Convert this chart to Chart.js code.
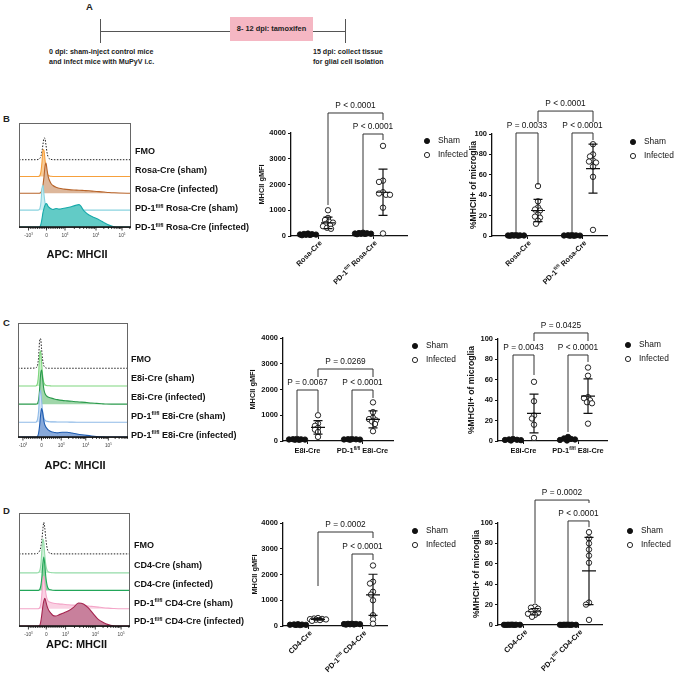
<!DOCTYPE html>
<html>
<head>
<meta charset="utf-8">
<script src="https://cdn.jsdelivr.net/npm/chart.js@4.4.1/dist/chart.umd.min.js"></script>
<style>
  body { margin: 0; background: #fff; width: 678px; height: 679px; position: relative; overflow: hidden;
         font-family: "Liberation Sans", Arial, sans-serif; }
  canvas { position: absolute; }
  .t { position: absolute; font-weight: bold; color: #222; white-space: nowrap; }
</style>
</head>
<body>
<!-- panel A: timeline -->
<div class="t" style="left:86px;top:1px;font-size:9.5px">A</div>
<div style="position:absolute;left:100px;top:31px;width:246px;height:1.2px;background:#555"></div>
<div style="position:absolute;left:99.5px;top:19px;width:1.2px;height:24px;background:#555"></div>
<div style="position:absolute;left:345px;top:19px;width:1.2px;height:24px;background:#555"></div>
<div class="t" style="left:230px;top:17px;width:83px;height:24px;background:#F5B7C3;font-size:7.4px;line-height:24px;text-align:center">8- 12 dpi: tamoxifen</div>
<div class="t" style="left:49px;top:47px;font-size:7.1px;line-height:10px">0 dpi: sham-inject control mice<br>and infect mice with MuPyV i.c.</div>
<div class="t" style="left:313px;top:47px;font-size:7.1px;line-height:10px">15 dpi: collect tissue<br>for glial cell isolation</div>
<div class="t" style="left:3px;top:113px;font-size:9.5px">B</div>
<div class="t" style="left:3px;top:317px;font-size:9.5px">C</div>
<div class="t" style="left:3px;top:505px;font-size:9.5px">D</div>

<canvas id="hB"></canvas>
<canvas id="hC"></canvas>
<canvas id="hD"></canvas>
<canvas id="sB1"></canvas>
<canvas id="sB2"></canvas>
<canvas id="sC1"></canvas>
<canvas id="sC2"></canvas>
<canvas id="sD1"></canvas>
<canvas id="sD2"></canvas>

<script>
const SANS = '"Liberation Sans", Arial, sans-serif';

// ---------- histogram data (heights above each lane, % of box) ----------
const histX = [0, 18, 19, 20, 21, 22, 23, 24, 25, 26, 27, 28, 29, 30, 32, 34, 37, 40, 45, 50, 55, 60, 65, 70, 75, 80, 85, 90, 95, 100, 112];
const histTickLabels = ['-10^3^', '0', '10^3^', '10^4^', '10^5^'];
const histTitle = 'APC: MHCII';

const rosaLanes = ['FMO', 'Rosa-Cre (sham)', 'Rosa-Cre (infected)', 'PD-1^fl/fl^ Rosa-Cre (sham)', 'PD-1^fl/fl^ Rosa-Cre (infected)'];
const rosaFmo    = [0,0,0.2,0.6,1.5,3.5,8,15,21,20,14,7,3,1.2,0.3,0,0,0,0,0,0,0,0,0,0,0,0,0,0,0,0];
const rosaSham   = [0,0,0,0.3,1.2,5,14,26,25,16,8,3.5,1.5,0.7,0.3,0.1,0,0,0,0,0,0,0,0,0,0,0,0,0,0,0];
const rosaInf    = [0,0,0,0,0.3,1,3,8,16,26,29,23,17,13.5,9.5,7.5,5.8,4.8,4,3.5,3.2,3,2.7,2.4,2,1.6,1.2,0.8,0.5,0.3,0];
const rosaPdSham = [0,0,0,0.4,2,8,21,24,15,7,3,1.5,0.8,0.4,0.2,0.1,0,0,0,0,0,0,0,0,0,0,0,0,0,0,0];
const rosaPdInf  = [0,0,0,0,0.5,3,8,14,18,21,22.5,22,20,19,17.5,16.8,17.8,17.2,18,19,20.3,21.5,15.5,11.5,9.2,7,4.2,1.8,0.3,0,0];

const e8iLanes = ['FMO', 'E8i-Cre (sham)', 'E8i-Cre (infected)', 'PD-1^fl/fl^ E8i-Cre (sham)', 'PD-1^fl/fl^ E8i-Cre (infected)'];
const e8iFmo    = [0,0.2,1,3,10,24,26,17,8,3,1.2,0.4,0.1,0,0,0,0,0,0,0,0,0,0,0,0,0,0,0,0,0,0];
const e8iSham   = [0,0.1,0.6,3,11,27,31,21,10,4,1.8,0.9,0.5,0.3,0.2,0.1,0,0,0,0,0,0,0,0,0,0,0,0,0,0,0];
const e8iInf    = [0,0,0.1,0.8,4,13,26,30,23,15,10.5,8.5,7.2,6.5,5.8,5.3,4.6,4,3.3,2.9,2.5,2.1,1.8,1.4,1,0.7,0.4,0.1,0,0,0];
const e8iPdSham = [0,0.1,0.6,3,10,24,28,20,10,5,2.5,1.4,1,0.8,0.5,0.4,0.35,0.3,0.25,0.2,0.15,0.1,0.05,0,0,0,0,0,0,0,0];
const e8iPdInf  = [0,0,0,0.7,3.5,10,19,25,22,16,11.5,9.5,8,7,5.5,4.6,4,3.6,4.2,4.2,3.5,2.7,2,1.4,0.9,0.5,0.2,0,0,0,0];

const cd4Lanes = ['FMO', 'CD4-Cre (sham)', 'CD4-Cre (infected)', 'PD-1^fl/fl^ CD4-Cre (sham)', 'PD-1^fl/fl^ CD4-Cre (infected)'];
const cd4Fmo    = [0,0.1,0.6,1.5,3,6,12,21,28,23,14,7,3,1.4,0.4,0,0,0,0,0,0,0,0,0,0,0,0,0,0,0,0];
const cd4Sham   = [0,0,0.1,0.6,2.2,7,19,30,27,16,7.5,3.2,1.4,0.7,0.3,0.1,0,0,0,0,0,0,0,0,0,0,0,0,0,0,0];
const cd4Inf    = [0,0,0,0.2,1,4,11,23,29.5,23,12.5,6,2.6,1.2,0.5,0.1,0,0,0,0,0,0,0,0,0,0,0,0,0,0,0];
const cd4PdSham = [0,0,0,0.2,1,4,12,24,29,22,14,9.5,7.3,6.3,5.5,5,4.6,4.3,3.9,3.5,3.2,3,2.8,2.4,1.9,1.4,0.9,0.5,0.2,0,0];
const cd4PdInf  = [0,0,0,0.1,0.7,4,10,17,22,24.5,22,18.5,15.8,14,11.5,9.5,8.8,9.8,11.5,13.5,16.5,20.3,19.5,16,10.8,5.8,3.1,1.2,0.2,0,0];

// ---------- scatter data: MHCII gMFI ----------
const gmfiRosaSham   = [95, 80, 70, 60, 55, 45, 40, 30];
const gmfiRosaInf    = [1000, 700, 620, 560, 520, 470, 420, 380, 320, 280];
const gmfiPdRosaSham = [130, 115, 105, 95, 90, 85, 80, 70];
const gmfiPdRosaInf  = [3500, 2150, 2100, 1700, 1650, 1600, 1600, 1100, 100];
const gmfiRosaMean = [60, 510, 95, 1700];
const gmfiRosaSd   = [22, 220, 20, 900];
const gmfiRosaP    = ['P < 0.0001', 'P < 0.0001'];

const gmfiE8iSham   = [80, 70, 65, 60, 55, 50, 45];
const gmfiE8iInf    = [1000, 680, 590, 510, 440, 350, 160];
const gmfiPdE8iSham = [75, 70, 65, 60, 55, 50];
const gmfiPdE8iInf  = [1500, 1120, 900, 850, 800, 760, 660, 380];
const gmfiE8iMean = [60, 530, 62, 840];
const gmfiE8iSd   = [12, 260, 10, 330];
const gmfiE8iP    = ['P = 0.0269', 'P = 0.0067', 'P < 0.0001'];

const gmfiCd4Sham   = [70, 60, 55, 50, 45, 40, 35];
const gmfiCd4Inf    = [310, 290, 275, 265, 255, 245, 230, 200];
const gmfiPdCd4Sham = [90, 85, 80, 75, 70, 65, 60, 55];
const gmfiPdCd4Inf  = [2350, 1720, 1650, 1330, 1220, 1000, 420, 260, 90];
const gmfiCd4Mean = [50, 260, 72, 1210];
const gmfiCd4Sd   = [12, 35, 12, 800];
const gmfiCd4P    = ['P = 0.0002', 'P < 0.0001'];

// ---------- scatter data: % MHCII+ of microglia ----------
const pctRosaSham   = [0.9, 0.8, 0.6, 0.5, 0.5, 0.4, 0.3, 0.2];
const pctRosaInf    = [49, 34, 28, 26, 25, 21, 19, 18, 15, 12];
const pctPdRosaSham = [0.9, 0.7, 0.6, 0.5, 0.4, 0.3, 0.2];
const pctPdRosaInf  = [90, 80, 78, 74, 73, 72, 68, 58, 6];
const pctRosaMean = [0.5, 25, 0.5, 66];
const pctRosaSd   = [0.3, 11, 0.3, 24];
const pctRosaP    = ['P < 0.0001', 'P = 0.0033', 'P < 0.0001'];

const pctE8iSham   = [2, 1.5, 1.2, 1, 0.8, 0.5];
const pctE8iInf    = [58, 39, 25, 22, 16, 3];
const pctPdE8iSham = [4, 2.5, 2, 1.5, 1, 0.5];
const pctPdE8iInf  = [72, 64, 43, 42, 40, 38, 37, 17];
const pctE8iMean = [1.2, 27, 2, 44];
const pctE8iSd   = [0.5, 19, 1.3, 17];
const pctE8iP    = ['P = 0.0425', 'P = 0.0043', 'P < 0.0001'];

const pctCd4Sham   = [0.4, 0.3, 0.3, 0.2, 0.2, 0.2, 0.1, 0.1];
const pctCd4Inf    = [18, 17, 16, 14, 13, 12, 11, 10, 8];
const pctPdCd4Sham = [0.4, 0.3, 0.3, 0.2, 0.2, 0.2, 0.1, 0.1];
const pctPdCd4Inf  = [91, 85, 80, 74, 68, 61, 22, 20, 5];
const pctCd4Mean = [0.2, 13, 0.2, 53];
const pctCd4Sd   = [0.1, 3.2, 0.1, 33];
const pctCd4P    = ['P = 0.0002', 'P < 0.0001'];

const legendNames = ['Sham', 'Infected'];

// text with ^superscript^ parts
function rich(ctx, str, x, y, size, weight, align) {
  const parts = str.split('^');
  const font = i => `${weight} ${i % 2 ? size * 0.6 : size}px ${SANS}`;
  let w = 0;
  parts.forEach((p, i) => { ctx.font = font(i); w += ctx.measureText(p).width; });
  let cx = align === 'right' ? x - w : align === 'center' ? x - w / 2 : x;
  ctx.textAlign = 'left';
  ctx.textBaseline = 'middle';
  parts.forEach((p, i) => {
    ctx.font = font(i);
    ctx.fillText(p, cx, i % 2 ? y - size * 0.32 : y);
    cx += ctx.measureText(p).width;
  });
}

function makeHist(o) {
  const cv = document.getElementById(o.id);
  const top = o.box.t - 8, W = 262, H = o.box.b - top + 45;
  cv.width = W; cv.height = H;
  cv.style.left = '0px'; cv.style.top = top + 'px';
  const datasets = [];
  // bottom lane first so it is painted on top
  for (let i = o.curves.length - 1; i >= 0; i--) {
    const base = o.lanes[i];
    const fmo = i === 0;
    datasets.push({
      data: histX.map((x, k) => ({ x, y: base + o.curves[i][k] })),
      borderColor: o.colors[i][0],
      backgroundColor: o.colors[i][1] || 'transparent',
      borderWidth: fmo ? 1 : 1.1,
      borderDash: fmo ? [1.5, 1.5] : [],
      fill: fmo ? false : { value: base },
      pointRadius: 0,
      cubicInterpolationMode: 'monotone'
    });
  }
  const t = o.tickAt;
  const minor = [];
  for (let k = -9; k <= 9; k++) minor.push(t[1] + k / 10 * (k < 0 ? t[1] - t[0] : t[2] - t[1]));
  for (let m = 2; m <= 9; m++) {
    minor.push(t[2] + Math.log10(m) * (t[3] - t[2]));
    minor.push(t[3] + Math.log10(m) * (t[4] - t[3]));
    const p = t[4] + Math.log10(m) * (t[4] - t[3]);
    if (p < 112) minor.push(p);
  }
  const deco = {
    id: 'histDeco',
    afterDraw(chart) {
      const { ctx, chartArea: a, scales: { x } } = chart;
      ctx.save();
      ctx.strokeStyle = '#666'; ctx.lineWidth = 1;
      ctx.strokeRect(a.left + 0.5, a.top + 0.5, a.right - a.left - 1, a.bottom - a.top);
      ctx.strokeStyle = '#111'; ctx.lineWidth = 1.4;
      ctx.beginPath(); ctx.moveTo(a.left, a.bottom); ctx.lineTo(a.right, a.bottom); ctx.stroke();
      ctx.lineWidth = 0.8;
      ctx.beginPath();
      minor.forEach(v => { const px = x.getPixelForValue(v); ctx.moveTo(px, a.bottom); ctx.lineTo(px, a.bottom + 2); });
      t.forEach(v => { const px = x.getPixelForValue(v); ctx.moveTo(px, a.bottom); ctx.lineTo(px, a.bottom + 3.5); });
      ctx.stroke();
      ctx.fillStyle = '#444';
      t.forEach((v, i) => rich(ctx, histTickLabels[i], x.getPixelForValue(v), a.bottom + 9, 4.8, 'normal', 'center'));
      ctx.fillStyle = '#111';
      o.names.forEach((n, i) => rich(ctx, n, o.labelX, o.labelY[i] - top, 9, 'bold', 'left'));
      rich(ctx, histTitle, (a.left + a.right) / 2 + 2, o.titleY - top, 11, 'bold', 'center');
      ctx.restore();
    }
  };
  new Chart(cv, {
    type: 'line',
    data: { datasets },
    options: {
      responsive: false, animation: false, events: [],
      layout: { padding: { left: o.box.l, top: 8, right: W - o.box.r, bottom: 45 } },
      scales: {
        x: { type: 'linear', display: false, min: 0, max: 112 },
        y: { display: false, min: 0, max: 100 }
      },
      plugins: { legend: { display: false }, tooltip: { enabled: false } }
    },
    plugins: [deco]
  });
}

function swarm(values, ymax, plotH) {
  const placed = [];
  return values.map(v => {
    const py = v / ymax * plotH;
    let best = 0, bestD = -1;
    for (let k = 0; k <= 16; k++) {
      const dx = (k % 2 ? -1 : 1) * Math.ceil(k / 2);
      const d = placed.reduce((m, p) => Math.min(m, Math.hypot(p[0] - dx, p[1] - py)), 99);
      if (d >= 3.4) { best = dx; break; }
      if (d > bestD + 0.01) { best = dx; bestD = d; }
    }
    placed.push([best, py]);
    return best;
  });
}

function makeScatter(o) {
  const cv = document.getElementById(o.id);
  const c = o.canvas, a = o.area;
  cv.width = c.w; cv.height = c.h;
  cv.style.left = c.x + 'px'; cv.style.top = c.y + 'px';
  const plotH = a.b - a.t;
  const datasets = o.groups.map((vals, g) => {
    const dx = swarm(vals, o.ymax, plotH);
    return {
      data: vals.map((v, i) => ({ x: o.gx[g] + dx[i], y: v })),
      pointRadius: 2.7,
      pointBorderWidth: 0.9,
      pointBackgroundColor: g % 2 === 0 ? '#111' : '#fff',
      pointBorderColor: '#111',
      clip: false
    };
  });
  const centers = [(o.gx[0] + o.gx[1]) / 2, (o.gx[2] + o.gx[3]) / 2];
  const deco = {
    id: 'scatterDeco',
    afterDatasetsDraw(chart) {
      const { ctx, chartArea: ca, scales: { x, y } } = chart;
      ctx.save();
      ctx.strokeStyle = '#111'; ctx.lineWidth = 1.2;
      ctx.beginPath();
      o.mean.forEach((m, g) => {
        const px = x.getPixelForValue(o.gx[g]);
        const pm = y.getPixelForValue(m), lo = y.getPixelForValue(m - o.sd[g]), hi = y.getPixelForValue(m + o.sd[g]);
        ctx.moveTo(px - 7, pm); ctx.lineTo(px + 7, pm);
        ctx.moveTo(px, lo); ctx.lineTo(px, hi);
        ctx.moveTo(px - 4.5, lo); ctx.lineTo(px + 4.5, lo);
        ctx.moveTo(px - 4.5, hi); ctx.lineTo(px + 4.5, hi);
      });
      ctx.stroke();
      // significance brackets
      ctx.strokeStyle = '#333'; ctx.lineWidth = 1;
      ctx.fillStyle = '#111';
      ctx.font = `8.3px ${SANS}`;
      ctx.textAlign = 'center'; ctx.textBaseline = 'middle';
      o.brackets.forEach((b, i) => {
        const x1 = x.getPixelForValue(o.gx[b.g[0]]), x2 = x.getPixelForValue(o.gx[b.g[1]]);
        const py = y.getPixelForValue(b.y);
        ctx.beginPath();
        ctx.moveTo(x1, y.getPixelForValue(b.ends[0]));
        ctx.lineTo(x1, py); ctx.lineTo(x2, py);
        ctx.lineTo(x2, y.getPixelForValue(b.ends[1]));
        ctx.stroke();
        ctx.fillText(o.pvals[i], (x1 + x2) / 2, py - 7);
      });
      // category labels
      ctx.fillStyle = '#111';
      centers.forEach((cx, i) => {
        const px = x.getPixelForValue(cx);
        if (o.rotate) {
          ctx.save();
          ctx.translate(px + 3, ca.bottom + 6);
          ctx.rotate(-Math.PI / 4);
          rich(ctx, o.xLabels[i], 0, 0, 7.4, 'bold', 'right');
          ctx.restore();
        } else {
          rich(ctx, o.xLabels[i], px, ca.bottom + 10, 7.4, 'bold', 'center');
        }
      });
      // y title
      ctx.save();
      ctx.translate(ca.left - o.titleDx, (ca.top + ca.bottom) / 2);
      ctx.rotate(-Math.PI / 2);
      ctx.font = `bold ${o.titleSize}px ${SANS}`;
      ctx.textAlign = 'center'; ctx.textBaseline = 'middle';
      ctx.fillText(o.yTitle, 0, 0);
      ctx.restore();
      // legend
      legendNames.forEach((n, i) => {
        const lx = o.legend[0] - c.x, ly = o.legend[1] - c.y + i * 14;
        ctx.beginPath();
        ctx.arc(lx, ly, 2.6, 0, Math.PI * 2);
        ctx.fillStyle = i === 0 ? '#111' : '#fff';
        ctx.fill();
        ctx.lineWidth = 0.9; ctx.strokeStyle = '#111'; ctx.stroke();
        ctx.fillStyle = '#111';
        ctx.font = `8.4px ${SANS}`;
        ctx.textAlign = 'left'; ctx.textBaseline = 'middle';
        ctx.fillText(n, lx + 11, ly);
      });
      ctx.restore();
    }
  };
  new Chart(cv, {
    type: 'scatter',
    data: { datasets },
    options: {
      responsive: false, animation: false, events: [],
      layout: { padding: { left: 0, top: a.t - c.y, right: c.x + c.w - a.r, bottom: 0 } },
      scales: {
        x: {
          type: 'linear', min: 0, max: a.r - a.l,
          afterBuildTicks: s => { s.ticks = centers.map(v => ({ value: v })); },
          afterFit: s => { s.height = c.y + c.h - a.b; },
          ticks: { display: false },
          grid: { drawOnChartArea: false, drawTicks: true, tickLength: 3, color: '#111', lineWidth: 1 },
          border: { display: true, color: '#111', width: 1.3, dash: o.dashAxis ? [3, 2] : [] }
        },
        y: {
          min: 0, max: o.ymax,
          afterFit: s => { s.width = a.l - c.x; },
          ticks: { stepSize: o.ymax / (o.ymax === 100 ? 5 : 4), color: '#111', padding: 2,
                   callback: v => String(v),
                   font: { family: SANS, size: 7.5, weight: 'bold' } },
          grid: { drawOnChartArea: false, drawTicks: true, tickLength: 3, color: '#111', lineWidth: 1 },
          border: { display: true, color: '#111', width: 1.3 }
        }
      },
      plugins: { legend: { display: false }, tooltip: { enabled: false } }
    },
    plugins: [deco]
  });
}

// ---------- histograms ----------
makeHist({
  id: 'hB', box: { l: 19, t: 123, r: 131, b: 227 }, lanes: [64.7, 48.5, 32.4, 16.2, 0],
  curves: [rosaFmo, rosaSham, rosaInf, rosaPdSham, rosaPdInf], names: rosaLanes,
  colors: [['#222', null], ['#F6A03C', '#F9CC98'], ['#B8642A', '#DDB79B'], ['#8AD3DF', '#CDEFF3'], ['#18AAAA', '#62CBC6']],
  tickAt: [9.5, 27.5, 46, 77, 103], labelX: 135, labelY: [152, 171, 190, 209, 228], titleY: 255
});
makeHist({
  id: 'hC', box: { l: 18, t: 323, r: 128, b: 437 }, lanes: [60.3, 44.7, 28.8, 12.9, 0],
  curves: [e8iFmo, e8iSham, e8iInf, e8iPdSham, e8iPdInf], names: e8iLanes,
  colors: [['#222', null], ['#7ED67E', '#C9EFC9'], ['#2A9A4C', '#9FD6A9'], ['#90BBE8', '#D2E3F6'], ['#1F5CB0', '#88A9DA']],
  tickAt: [5, 24, 44, 69, 92], labelX: 131, labelY: [360, 379, 397.5, 416.5, 435.5], titleY: 466
});
makeHist({
  id: 'hD', box: { l: 19, t: 513, r: 130, b: 626 }, lanes: [63.8, 47, 31.5, 15.3, 0],
  curves: [cd4Fmo, cd4Sham, cd4Inf, cd4PdSham, cd4PdInf], names: cd4Lanes,
  colors: [['#222', null], ['#94DCA8', '#CFF0D8'], ['#22A659', '#8FD3A3'], ['#F4A5C8', '#FAD2E3'], ['#A5244F', '#C8809C']],
  tickAt: [9.5, 27.5, 47, 77, 103], labelX: 134, labelY: [546, 566, 585, 603.5, 622], titleY: 645
});

// ---------- scatter plots ----------
makeScatter({
  id: 'sB1', canvas: { x: 236, y: 95, w: 240, h: 190 }, area: { l: 291, t: 133, r: 407, b: 236 },
  ymax: 4000, gx: [17, 37, 72, 92],
  groups: [gmfiRosaSham, gmfiRosaInf, gmfiPdRosaSham, gmfiPdRosaInf], mean: gmfiRosaMean, sd: gmfiRosaSd,
  pvals: gmfiRosaP,
  brackets: [{ g: [1, 3], y: 4777, ends: [1204, 4505] }, { g: [2, 3], y: 3961, ends: [233, 3728] }],
  xLabels: ['Rosa-Cre', 'PD-1^fl/fl^ Rosa-Cre'], rotate: true,
  yTitle: 'MHCII gMFI', titleSize: 7.4, titleDx: 29, legend: [427, 141]
});
makeScatter({
  id: 'sB2', canvas: { x: 440, y: 95, w: 238, h: 190 }, area: { l: 492, t: 134, r: 607, b: 236 },
  ymax: 100, gx: [24, 46, 80, 101],
  groups: [pctRosaSham, pctRosaInf, pctPdRosaSham, pctPdRosaInf], mean: pctRosaMean, sd: pctRosaSd,
  pvals: pctRosaP,
  brackets: [{ g: [1, 3], y: 122.5, ends: [111.8, 111.8] }, { g: [0, 1], y: 101, ends: [3, 50] }, { g: [2, 3], y: 101, ends: [3, 94] }],
  xLabels: ['Rosa-Cre', 'PD-1^fl/fl^ Rosa-Cre'], rotate: true,
  yTitle: '%MHCII+ of microglia', titleSize: 8.6, titleDx: 18, legend: [633, 142]
});
makeScatter({
  id: 'sC1', canvas: { x: 236, y: 300, w: 240, h: 165 }, area: { l: 283, t: 338, r: 393, b: 441 },
  ymax: 4000, gx: [14, 35, 69, 90],
  groups: [gmfiE8iSham, gmfiE8iInf, gmfiPdE8iSham, gmfiPdE8iInf], mean: gmfiE8iMean, sd: gmfiE8iSd,
  pvals: gmfiE8iP,
  brackets: [{ g: [1, 3], y: 2796, ends: [2485, 2485] }, { g: [0, 1], y: 1980, ends: [155, 1126] }, { g: [2, 3], y: 1980, ends: [155, 1670] }],
  xLabels: ['E8i-Cre', 'PD-1^fl/fl^ E8i-Cre'], rotate: false,
  yTitle: 'MHCII gMFI', titleSize: 7.4, titleDx: 30, legend: [415, 346]
});
makeScatter({
  id: 'sC2', canvas: { x: 440, y: 300, w: 238, h: 165 }, area: { l: 498, t: 339, r: 607, b: 441 },
  ymax: 100, gx: [15, 36, 70, 90],
  groups: [pctE8iSham, pctE8iInf, pctPdE8iSham, pctPdE8iInf], mean: pctE8iMean, sd: pctE8iSd,
  pvals: pctE8iP,
  brackets: [{ g: [1, 3], y: 105.9, ends: [98, 98] }, { g: [0, 1], y: 84.3, ends: [5, 64.7] }, { g: [2, 3], y: 84.3, ends: [8.8, 77.5] }],
  xLabels: ['E8i-Cre', 'PD-1^fl/fl^ E8i-Cre'], rotate: false,
  yTitle: '%MHCII+ of microglia', titleSize: 8.6, titleDx: 26, legend: [628, 345]
});
makeScatter({
  id: 'sD1', canvas: { x: 236, y: 480, w: 240, h: 199 }, area: { l: 283, t: 523, r: 387, b: 626 },
  ymax: 4000, gx: [15, 35, 69, 90], dashAxis: true,
  groups: [gmfiCd4Sham, gmfiCd4Inf, gmfiPdCd4Sham, gmfiPdCd4Inf], mean: gmfiCd4Mean, sd: gmfiCd4Sd,
  pvals: gmfiCd4P,
  brackets: [{ g: [1, 3], y: 3650, ends: [1553, 3417] }, { g: [2, 3], y: 2796, ends: [194, 2563] }],
  xLabels: ['CD4-Cre', 'PD-1^fl/fl^ CD4-Cre'], rotate: true,
  yTitle: 'MHCII gMFI', titleSize: 7.4, titleDx: 28, legend: [415, 531]
});
makeScatter({
  id: 'sD2', canvas: { x: 440, y: 480, w: 238, h: 199 }, area: { l: 498, t: 523, r: 602, b: 625 },
  ymax: 100, gx: [14, 37, 70, 91],
  groups: [pctCd4Sham, pctCd4Inf, pctPdCd4Sham, pctPdCd4Inf], mean: pctCd4Mean, sd: pctCd4Sd,
  pvals: pctCd4P,
  brackets: [{ g: [1, 3], y: 122.5, ends: [21.6, 119.6] }, { g: [2, 3], y: 102, ends: [3, 96] }],
  xLabels: ['CD4-Cre', 'PD-1^fl/fl^ CD4-Cre'], rotate: true,
  yTitle: '%MHCII+ of microglia', titleSize: 8.6, titleDx: 21, legend: [630, 531]
});
</script>
</body>
</html>
